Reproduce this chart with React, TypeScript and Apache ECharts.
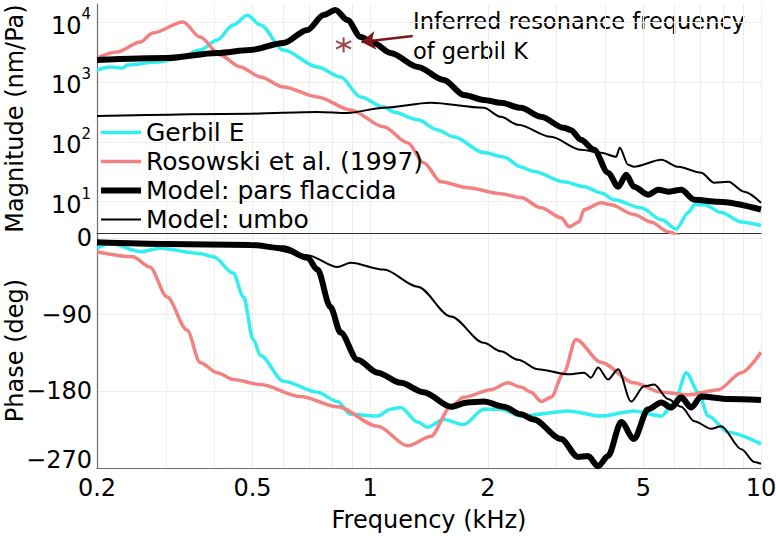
import React, { useEffect, useRef } from 'react';
import * as echarts from 'echarts';

const FONT = 'DejaVu Sans';
const CYAN = '#33eef0';
const SALMON = '#f28282';
const BLACK = '#000000';
const DARKRED = '#7d1717';

const seriesNames = ['Gerbil E', 'Rosowski et al. (1997)', 'Model: pars flaccida', 'Model: umbo'];

// x-axis (kHz)
const xMin = 0.2;
const xMax = 10;
const xTickLabels = [0.2, 0.5, 1, 2, 5, 10];
const xGridFreqs = [0.2, 0.3, 0.4, 0.5, 0.6, 0.7, 0.8, 0.9, 1, 2, 3, 4, 5, 6, 7, 8, 9, 10];

// magnitude axis (nm/Pa)
const magMin = 3;
const magMax = 20000;
const magTicks = [10, 100, 1000, 10000];

// phase axis (deg)
const phaseMin = -270;
const phaseMax = 6;
const phaseTicks = [-270, -180, -90, 0];

// ---- Magnitude data ----
const gerbilEMagFreq = [0.2, 0.216, 0.233, 0.239, 0.285, 0.326, 0.367, 0.406, 0.446, 0.485, 0.524, 0.6, 0.733, 0.84, 0.945, 1.083, 1.148, 1.323, 1.488, 1.636, 1.953, 2.198, 2.43, 2.62, 3.13, 3.53, 3.9, 4.21, 4.93, 5.56, 6.07, 6.52, 6.75, 7.16, 7.91, 8.91, 10];
const gerbilEMag = [1580, 1780, 1710, 1920, 2150, 2510, 3400, 5000, 8900, 13000, 8900, 3400, 1780, 1210, 560, 380, 316, 233, 158, 121, 66, 56, 38, 32, 21.5, 17.8, 14, 10.8, 7.9, 5.0, 3.5, 6.6, 8.9, 8.9, 6.6, 4.6, 4.0];

const rosowskiMagFreq = [0.2, 0.225, 0.258, 0.278, 0.332, 0.367, 0.413, 0.465, 0.524, 0.6, 0.733, 0.891, 1.083, 1.247, 1.371, 1.516, 1.777, 2.16, 2.43, 2.736, 3.08, 3.23, 3.42, 3.53, 3.9, 4.13, 4.73, 5.23, 5.78, 6.25];
const rosowskiMag = [2510, 3160, 4640, 6560, 10000, 5620, 2820, 1780, 1210, 826, 562, 341, 178, 96, 44.7, 21.5, 17.1, 13.6, 11.7, 7.9, 5.4, 3.8, 4.6, 7.4, 9.6, 8.9, 6.1, 4.6, 3.16, 2.5];

const parsFlaccidaMagFreq = [0.2, 0.302, 0.406, 0.494, 0.6, 0.691, 0.76, 0.815, 0.875, 0.945, 1.021, 1.128, 1.323, 1.543, 1.736, 1.953, 2.16, 2.43, 2.736, 3.13, 3.26, 3.46, 3.74, 4.06, 4.31, 4.52, 4.73, 5.14, 5.46, 5.78, 6.25, 6.75, 7.78, 10];
const parsFlaccidaMag = [2330, 2510, 3045, 3415, 4470, 7360, 13090, 15850, 10800, 5620, 4470, 3045, 1778, 1080, 607, 500, 447, 369, 261, 171, 158, 108, 73.6, 30.4, 17.8, 28.2, 17.8, 13.1, 15.8, 14.7, 15.8, 10.8, 10, 7.4];

const umboMagFreq = [0.2, 0.494, 0.733, 0.875, 1.083, 1.428, 1.953, 2.16, 2.39, 2.9, 3.46, 3.9, 4.26, 4.35, 4.57, 4.73, 5.56, 6.14, 7.03, 7.59, 8.25, 9.06, 10];
const umboMag = [270, 295, 316, 304, 369, 447, 369, 261, 192, 121, 73.6, 65.6, 56.2, 79.4, 41.4, 38.3, 50.1, 38.3, 30.4, 20.7, 21.5, 14.7, 9.6];

// ---- Phase data ----
const gerbilEPhaseFreq = [0.2, 0.216, 0.258, 0.29, 0.367, 0.397, 0.446, 0.474, 0.502, 0.524, 0.6, 0.733, 0.825, 0.891, 1.045, 1.128, 1.197, 1.323, 1.403, 1.543, 1.736, 1.953, 2.16, 2.43, 3.21, 3.9, 4.73, 5.56, 6.0, 6.44, 6.91, 7.33, 8.25, 10];
const gerbilEPhase = [-12, -6, -16, -12, -18, -22, -41, -69, -119, -138, -168, -181, -192, -207, -209, -201, -199, -216, -222, -213, -219, -201, -201, -209, -203, -209, -203, -209, -193, -158, -181, -209, -228, -242];

const rosowskiPhaseFreq = [0.2, 0.247, 0.273, 0.302, 0.34, 0.367, 0.406, 0.446, 0.524, 0.663, 0.825, 1.045, 1.247, 1.428, 1.608, 1.736, 2.036, 2.25, 2.43, 2.58, 2.74, 2.9, 3.13, 3.36, 3.9, 4.73, 5.56, 6.52, 7.78, 8.91, 10];
const rosowskiPhase = [-16, -22, -34, -69, -108, -146, -158, -166, -172, -186, -198, -221, -244, -233, -198, -187, -178, -170, -175, -181, -192, -187, -158, -119, -146, -170, -181, -184, -178, -158, -134];

const parsFlaccidaPhaseFreq = [0.2, 0.302, 0.494, 0.6, 0.691, 0.733, 0.791, 0.84, 0.928, 1.045, 1.197, 1.371, 1.608, 1.777, 1.953, 2.198, 2.43, 2.62, 3.08, 3.4, 3.61, 3.83, 4.06, 4.39, 4.73, 5.14, 5.56, 5.89, 6.25, 6.63, 7.03, 8.25, 10];
const parsFlaccidaPhase = [-5, -7, -8, -12, -23, -37, -81, -111, -143, -158, -170, -181, -198, -193, -192, -198, -207, -213, -236, -257, -256, -268, -256, -216, -236, -201, -193, -199, -187, -199, -186, -189, -190];

const umboPhaseFreq = [0.2, 0.494, 0.691, 0.825, 0.891, 1.083, 1.323, 1.608, 1.953, 2.16, 2.39, 2.69, 3.21, 3.53, 3.67, 3.83, 4.06, 4.31, 4.65, 5.02, 5.33, 5.78, 6.25, 6.75, 7.46, 7.91, 8.91, 9.62, 10];
const umboPhase = [-5, -8, -20, -34, -29, -37, -57, -92, -123, -133, -143, -154, -160, -158, -164, -152, -166, -154, -192, -174, -172, -189, -198, -215, -224, -221, -248, -263, -265];

// annotation
const asteriskFreq = 0.855;
const asteriskMag = 4140;
const arrowFromFreq = 1.285;
const arrowFromMag = 5840;
const arrowToFreq = 0.95;
const arrowToMag = 4640;
const annotationLines = ['Inferred resonance frequency', 'of gerbil K'];

const zip = (xs: number[], ys: number[]) => xs.map((x, i) => [x, ys[i]]);

const styles = [
  { color: CYAN, width: 3.5 },
  { color: SALMON, width: 3.5 },
  { color: BLACK, width: 6 },
  { color: BLACK, width: 2 },
];

const magData = [
  zip(gerbilEMagFreq, gerbilEMag),
  zip(rosowskiMagFreq, rosowskiMag),
  zip(parsFlaccidaMagFreq, parsFlaccidaMag),
  zip(umboMagFreq, umboMag),
];
const phaseData = [
  zip(gerbilEPhaseFreq, gerbilEPhase),
  zip(rosowskiPhaseFreq, rosowskiPhase),
  zip(parsFlaccidaPhaseFreq, parsFlaccidaPhase),
  zip(umboPhaseFreq, umboPhase),
];

const axisLineColor = '#6e6e6e';
const gridColor = '#ededed';
const TICK_FS = 24;
const NAME_FS = 24;
const LEGEND_FS = 25;

const xAxisBase = {
  type: 'log',
  logBase: 10,
  min: xMin,
  max: xMax,
  axisTick: { show: false, customValues: xGridFreqs },
  splitLine: { show: true, lineStyle: { color: gridColor, width: 1 } },
};

const fmtNum = (v: number) => String(Number(Number(v).toPrecision(3)));

export default function App() {
  const ref = useRef<HTMLDivElement>(null);
  useEffect(() => {
    const chart = echarts.init(ref.current!, null, { renderer: 'svg' });
    const lineSeries = (name: string, i: number, data: number[][], axis: number) => ({
      type: 'line',
      name,
      xAxisIndex: axis,
      yAxisIndex: axis,
      data,
      symbol: 'none',
      showSymbol: false,
      smooth: 0.3,
      smoothMonotone: 'x',
      clip: true,
      silent: true,
      lineStyle: { color: styles[i].color, width: styles[i].width },
      itemStyle: { color: styles[i].color },
      z: 2 + i,
    });
    const option: any = {
      animation: false,
      backgroundColor: '#ffffff',
      textStyle: { fontFamily: FONT },
      grid: [
        { left: 97, top: 4, width: 664, height: 229, outerBoundsMode: 'none', containLabel: false },
        { left: 97, top: 233, width: 664, height: 235, outerBoundsMode: 'none', containLabel: false },
      ],
      xAxis: [
        {
          ...xAxisBase,
          gridIndex: 0,
          axisLine: { show: true, onZero: false, lineStyle: { color: '#333', width: 1.2 } },
          axisLabel: { show: false },
        },
        {
          ...xAxisBase,
          gridIndex: 1,
          axisLine: { show: true, onZero: false, lineStyle: { color: axisLineColor, width: 1.2 } },
          axisLabel: {
            show: true,
            customValues: xTickLabels,
            formatter: fmtNum,
            fontSize: TICK_FS,
            fontFamily: FONT,
            color: '#000',
            margin: 8,
          },
          name: 'Frequency (kHz)',
          nameLocation: 'middle',
          nameGap: 40,
          nameMoveOverlap: false,
          nameTextStyle: { fontSize: NAME_FS, fontFamily: FONT, color: '#000' },
        },
      ],
      yAxis: [
        {
          type: 'log',
          logBase: 10,
          gridIndex: 0,
          min: magMin,
          max: magMax,
          axisLine: { show: true, lineStyle: { color: axisLineColor, width: 1.2 } },
          axisTick: { show: false, customValues: magTicks },
          splitLine: { show: true, lineStyle: { color: gridColor, width: 1 } },
          axisLabel: {
            customValues: magTicks,
            margin: 6,
            formatter: (v: number) => `{b|10}{s|${Math.round(Math.log10(v))}}`,
            rich: {
              b: { fontSize: TICK_FS, fontFamily: FONT, color: '#000', padding: [7, 0, 0, 0], verticalAlign: 'bottom' },
              s: { fontSize: 15, fontFamily: FONT, color: '#000', verticalAlign: 'top' },
            },
          },
          name: 'Magnitude (nm/Pa)',
          nameLocation: 'middle',
          nameGap: 70,
          nameMoveOverlap: false,
          nameTextStyle: { fontSize: NAME_FS, fontFamily: FONT, color: '#000' },
        },
        {
          type: 'value',
          gridIndex: 1,
          min: phaseMin,
          max: phaseMax,
          axisLine: { show: true, lineStyle: { color: axisLineColor, width: 1.2 } },
          axisTick: { show: false, customValues: phaseTicks },
          splitLine: { show: true, lineStyle: { color: gridColor, width: 1 } },
          axisLabel: {
            customValues: phaseTicks,
            margin: 5,
            color: '#000',
            formatter: (v: number) => {
              const s = v === 0 ? '0' : '\u2212' + Math.abs(v);
              return v === phaseMin ? `{up|${s}}` : `{n|${s}}`;
            },
            rich: {
              n: { fontSize: TICK_FS, fontFamily: FONT, color: '#000' },
              up: { fontSize: TICK_FS, fontFamily: FONT, color: '#000', padding: [0, 0, 16, 0] },
            },
          },
          name: 'Phase (deg)',
          nameLocation: 'middle',
          nameGap: 70,
          nameMoveOverlap: false,
          nameTextStyle: { fontSize: NAME_FS, fontFamily: FONT, color: '#000' },
        },
      ],
      legend: {
        data: seriesNames,
        orient: 'vertical',
        left: 98,
        top: 120,
        padding: 0,
        itemWidth: 40,
        itemHeight: 14,
        itemGap: 4,
        selectedMode: false,
        itemStyle: { opacity: 0 },
        lineStyle: { width: 'inherit' },
        textStyle: { fontSize: LEGEND_FS, fontFamily: FONT, color: '#000', lineHeight: LEGEND_FS },
      },
      graphic: [
        { type: 'text', left: 413, top: 9, silent: true, style: { text: annotationLines[0], fontSize: 22.5, fontFamily: FONT, fill: '#000' } },
        { type: 'text', left: 413, top: 39, silent: true, style: { text: annotationLines[1], fontSize: 22.5, fontFamily: FONT, fill: '#000' } },
      ],
      series: [
        ...seriesNames.map((n, i) => lineSeries(n, i, magData[i], 0)),
        ...seriesNames.map((n, i) => lineSeries(n, i, phaseData[i], 1)),
        {
          type: 'scatter',
          name: 'resonance',
          xAxisIndex: 0,
          yAxisIndex: 0,
          silent: true,
          z: 10,
          data: [[asteriskFreq, asteriskMag]],
          symbol: 'path://M0,-10L0,10M-8.66,-5L8.66,5M-8.66,5L8.66,-5',
          symbolSize: 15,
          itemStyle: { color: 'none', borderColor: DARKRED, borderWidth: 2 },
          markLine: {
            silent: true,
            symbol: ['none', 'arrow'],
            symbolSize: 14,
            label: { show: false },
            lineStyle: { color: DARKRED, width: 2.5, type: 'solid' },
            data: [[{ coord: [arrowFromFreq, arrowFromMag] }, { coord: [arrowToFreq, arrowToMag] }]],
          },
        },
      ],
    };
    chart.setOption(option);
    return () => chart.dispose();
  }, []);
  return <div ref={ref} style={{ position: 'absolute', left: 0, top: 0, width: 776, height: 536 }} />;
}
